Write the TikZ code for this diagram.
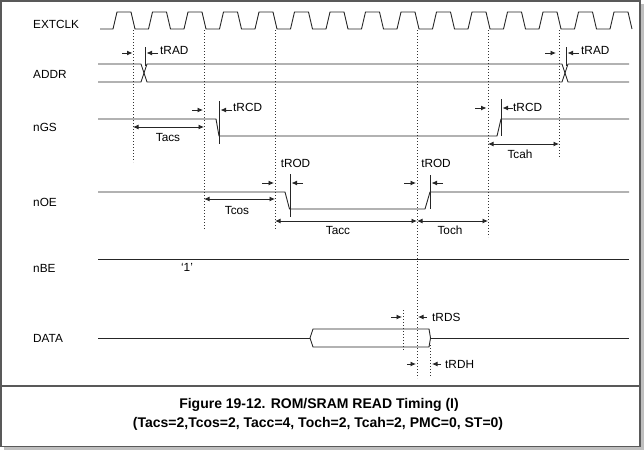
\documentclass[tikz,border=0pt]{standalone}
\usepackage{fontspec}
\setmainfont{Liberation Sans}
\usetikzlibrary{arrows.meta}
\begin{document}
\begin{tikzpicture}[x=1pt,y=-1pt,
  sig/.style={line width=0.9pt, draw=black!85},
  vdot/.style={line width=1pt, draw=black!80, dash pattern=on 1pt off 2pt},
  tspan/.style={line width=0.9pt, draw=black!85, {Latex[length=5.5pt,width=5pt]}-{Latex[length=5.5pt,width=5pt]}},
  tmark/.style={line width=0.9pt, draw=black!85, -{Latex[length=5.5pt,width=5pt]}},
  lab/.style={font=\fontsize{11.8}{13}\selectfont, inner sep=0pt},
  siglab/.style={lab, anchor=west},
  boxframe/.style={draw=black!65, line width=1.5pt}]
\useasboundingbox (0,0) rectangle (644,450);
% frame and shadow
\fill[black!25] (4,446) rectangle (644,450);
\fill[black!25] (640,4) rectangle (644,450);
\draw[boxframe] (0.75,0.75) rectangle (640,446.5);
\draw[boxframe] (0,386) -- (640,386);

% signal names
\node[siglab] (nclk) at (33,24) {EXTCLK};
\node[siglab] (naddr) at (33,74) {ADDR};
\node[siglab] (ngs) at (33,127.5) {nGS};
\node[siglab] (noe) at (33,202) {nOE};
\node[siglab] (nbe) at (33,268) {nBE};
\node[siglab] (ndata) at (33,338) {DATA};

% clock
\draw[sig] (100,29) \foreach \k in {0,...,14} {
  -- ({115+35.5*\k-2},29) -- ({115+35.5*\k+2},12) -- ({115+35.5*\k+16},12) -- ({115+35.5*\k+20},29) };

% dotted reference lines
\foreach \x/\a/\b in {133/30/162, 204/30/230, 275/30/230, 417/30/378, 488/30/237, 559/30/157, 403/310/350, 430/345/378}
  \draw[vdot] (\x,\a) -- (\x,\b);

% ADDR
\draw[sig] (98,64) -- (141,64) -- (147,82) -- (562,82) -- (568,64) -- (629,64);
\draw[sig] (98,82) -- (141,82) -- (147,64) -- (562,64) -- (568,82) -- (629,82);
\draw[sig] (145,47) -- (145,66);
\draw[sig] (566,47) -- (566,66);
\draw[tmark] (122,53) -- (132.5,53);
\draw[tmark] (158,53) -- (146.5,53);
\node[siglab] (trad1) at (160,50) {tRAD};
\draw[tmark] (545,53) -- (556,53);
\draw[tmark] (579,53) -- (567.5,53);
\node[siglab] (trad2) at (581,50) {tRAD};

% nGS
\draw[sig] (98,119) -- (216,119) -- (219,136) -- (497,136) -- (501,119) -- (629,119);
\draw[sig] (219,101) -- (219,144);
\draw[sig] (501,99) -- (501,136);
\draw[tmark] (192,110) -- (203,110);
\draw[tmark] (232,110) -- (220.5,110);
\node[siglab] (trcd1) at (233,107) {tRCD};
\draw[tmark] (475,108) -- (486.5,108);
\draw[tmark] (513,108) -- (502.5,108);
\node[siglab] (trcd2) at (513,107) {tRCD};
\draw[tspan] (133,127) -- (204,127);
\node[lab] (tacs) at (168,137) {Tacs};
\draw[tspan] (488,144) -- (559,144);
\node[lab] (tcah) at (520,154) {Tcah};

% nOE
\draw[sig] (98,192) -- (285,192) -- (289.5,209) -- (425,209) -- (430,192) -- (629,192);
\draw[sig] (290,174) -- (290,217);
\draw[sig] (430,175) -- (430,209);
\draw[tmark] (262,183) -- (274,183);
\draw[tmark] (303,183) -- (291.5,183);
\node[lab] (trod1) at (295.5,163) {tROD};
\draw[tmark] (404,183) -- (416,183);
\draw[tmark] (443,183) -- (431.5,183);
\node[lab] (trod2) at (436,163) {tROD};
\draw[tspan] (204,199) -- (275,199);
\node[lab] (tcos) at (237,210) {Tcos};
\draw[tspan] (275,221) -- (417,221);
\node[lab] (tacc) at (338,230) {Tacc};
\draw[tspan] (417,221) -- (488,221);
\node[lab] (toch) at (450,230) {Toch};

% nBE
\draw[sig] (98,259) -- (629,259);
\node[lab] (one) at (187,267) {`1'};

% DATA
\draw[sig] (98,338) -- (310,338);
\draw[sig] (310,338) -- (313,329) -- (429,329) -- (430.5,338) -- (429,347) -- (313,347) -- cycle;
\draw[sig] (430.5,338) -- (629,338);
\draw[tmark] (391,317) -- (402,317);
\draw[tmark] (427,317) -- (418,317);
\node[siglab] (trds) at (432,317) {tRDS};
\draw[tmark] (407,364) -- (416,364);
\draw[tmark] (441,364) -- (432,364);
\node[siglab] (trdh) at (445,364) {tRDH};

% caption
\node[font=\bfseries\fontsize{14}{16}\selectfont, inner sep=0pt] (cap1) at (319,405) {Figure 19-12. ROM/SRAM READ Timing (I)};
\node[font=\bfseries\fontsize{14}{16}\selectfont, inner sep=0pt] (cap2) at (318,424) {(Tacs=2,Tcos=2, Tacc=4, Toch=2, Tcah=2, PMC=0, ST=0)};
\end{tikzpicture}
\end{document}
